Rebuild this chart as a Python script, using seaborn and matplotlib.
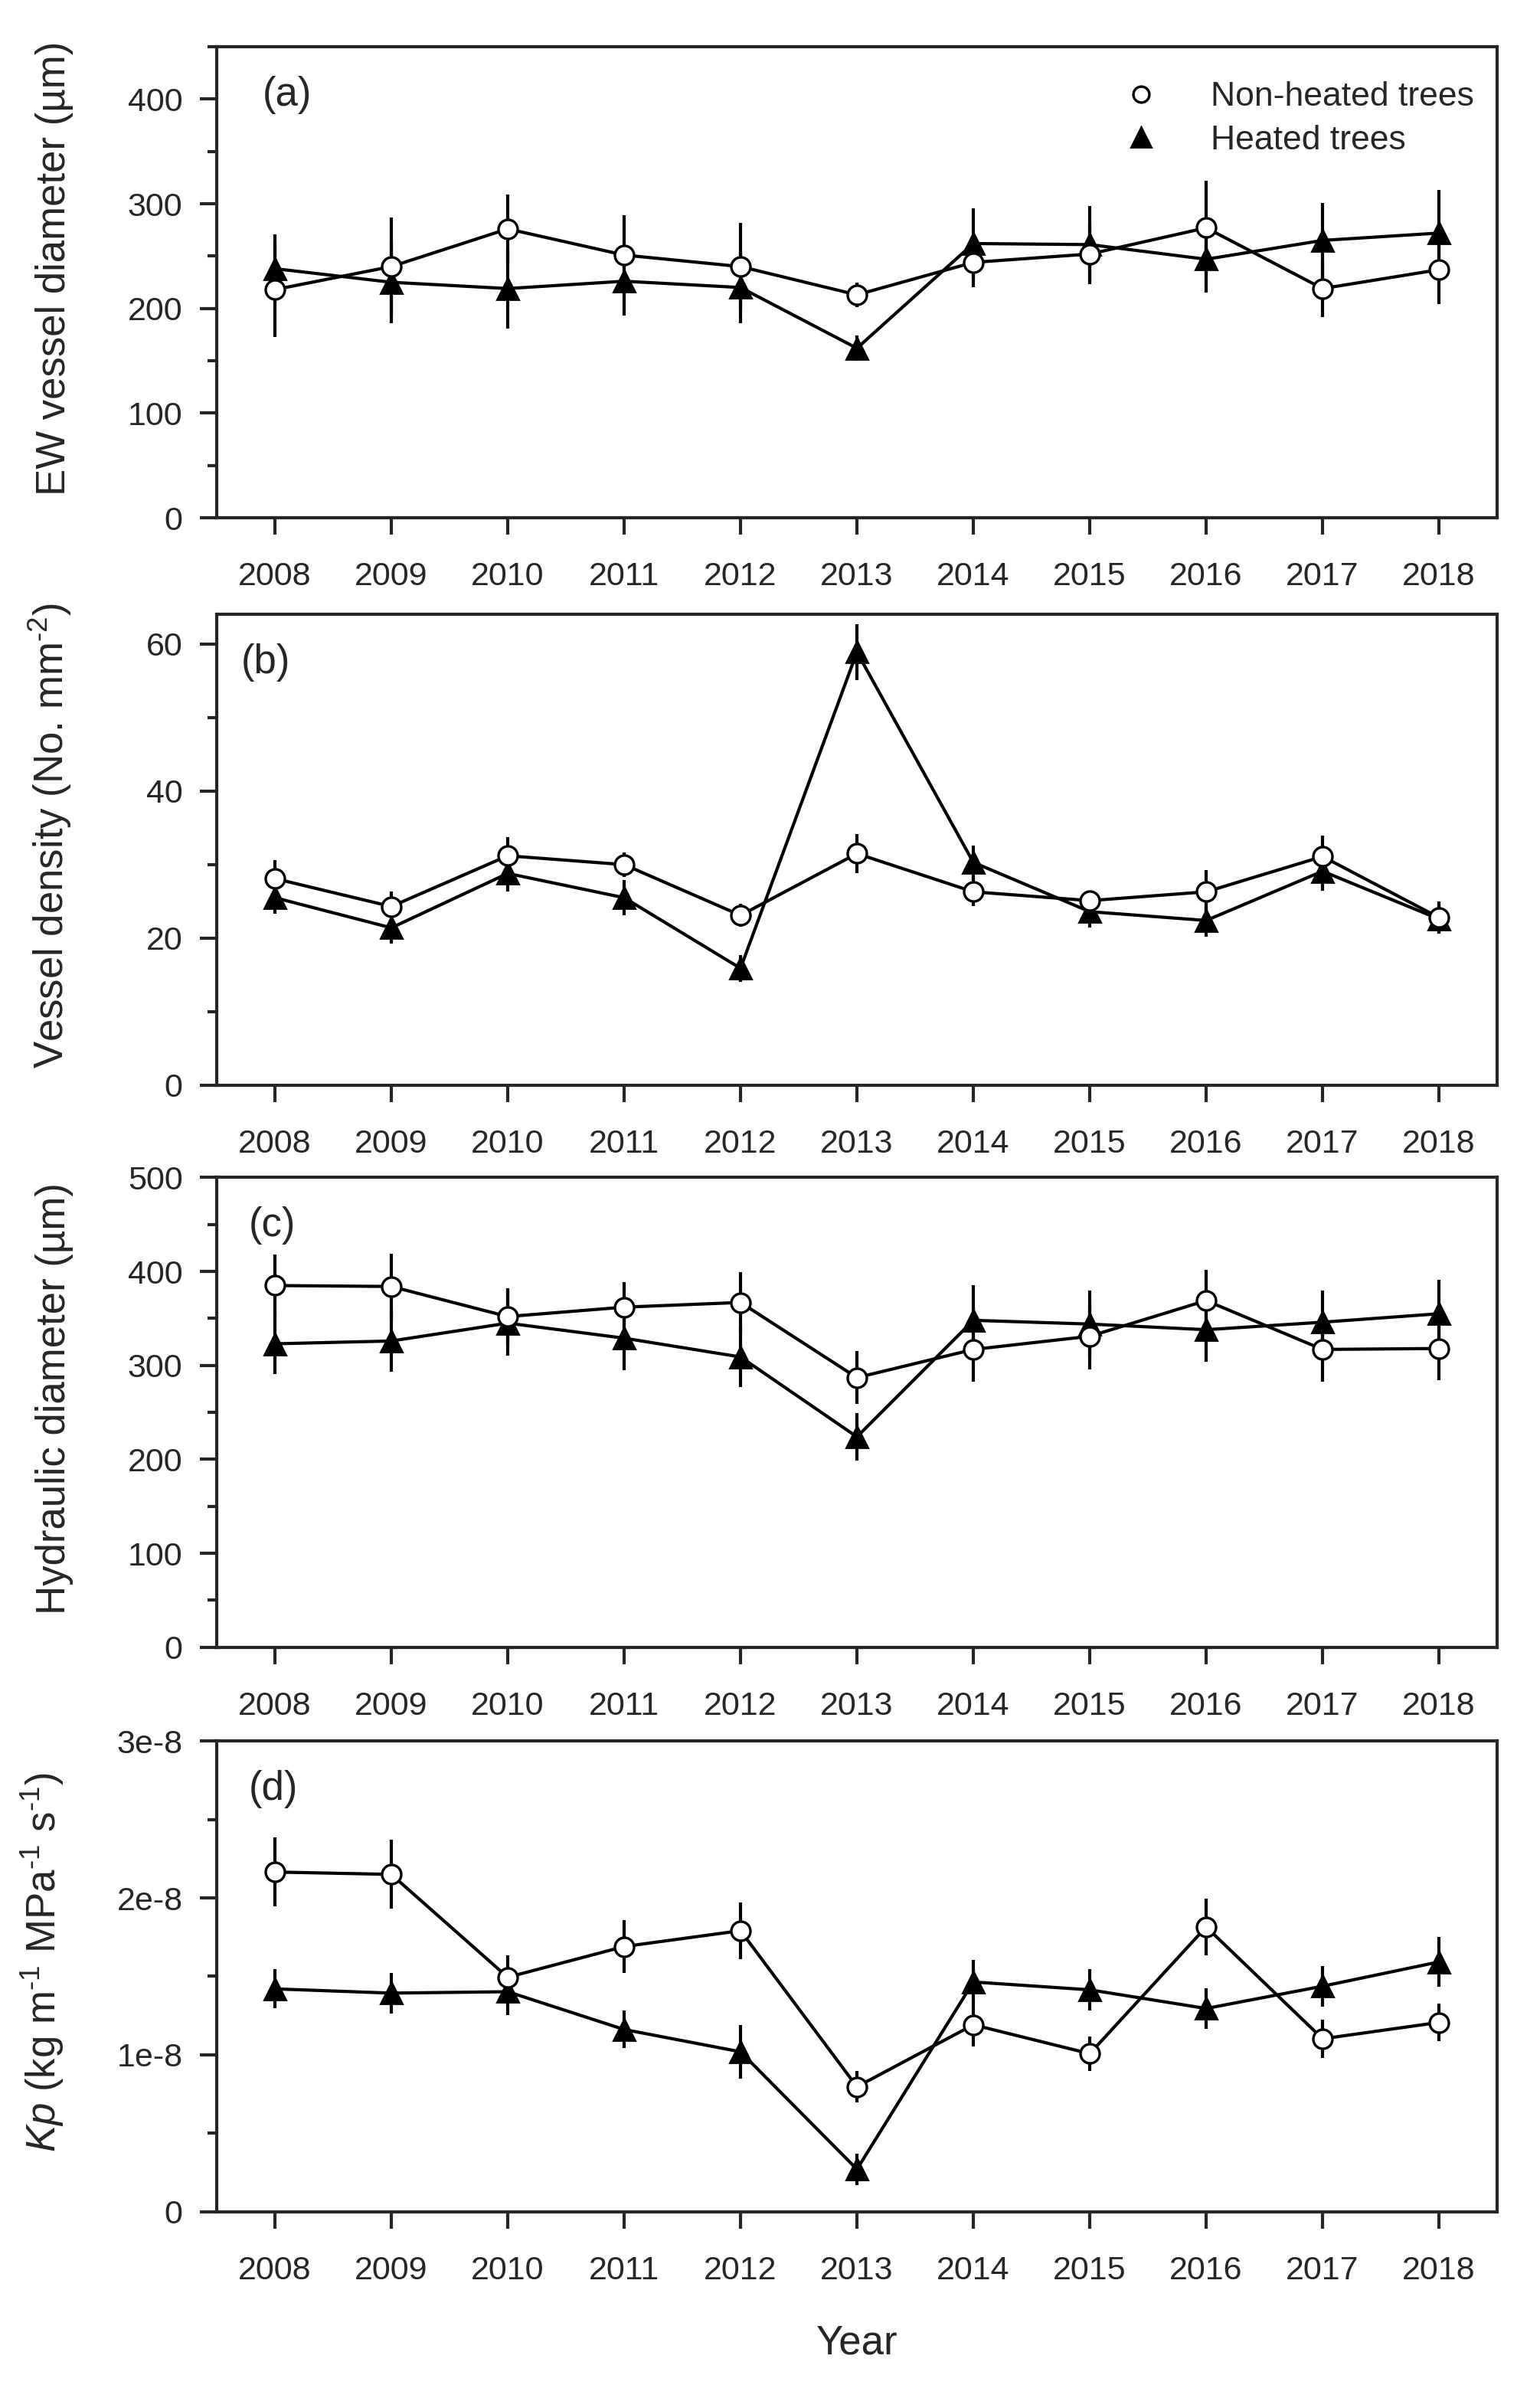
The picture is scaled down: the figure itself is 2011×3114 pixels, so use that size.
import pandas as pd
import matplotlib.pyplot as plt
import seaborn as sns
from matplotlib.lines import Line2D
from matplotlib.ticker import MultipleLocator, FuncFormatter

# Years on the x axis
years = list(range(2008, 2019))

# (a) EW vessel diameter (um)
ew_non = [218, 240, 276, 251, 240, 213, 244, 252, 277, 219, 237]
ew_non_se = [45, 47, 33, 38, 42, 12, 24, 29, 45, 27, 33]
ew_heat = [238, 225, 219, 226, 220, 162, 262, 261, 247, 265, 272]
ew_heat_se = [33, 39, 38, 33, 34, 12, 34, 37, 32, 36, 41]

# (b) Vessel density (No. mm-2)
vd_non = [28.1, 24.3, 31.2, 30.0, 23.1, 31.5, 26.3, 25.1, 26.3, 31.1, 22.8]
vd_non_se = [2.5, 2.0, 2.5, 1.7, 1.6, 2.7, 1.9, 1.3, 3.0, 2.8, 2.2]
vd_heat = [25.5, 21.4, 28.8, 25.5, 15.9, 58.9, 30.3, 23.6, 22.4, 29.1, 22.6]
vd_heat_se = [2.2, 2.1, 2.5, 2.4, 1.8, 3.8, 2.3, 2.2, 2.2, 2.7, 2.0]

# (c) Hydraulic diameter (um)
hd_non = [385, 384, 352, 362, 367, 287, 317, 331, 369, 317, 318]
hd_non_se = [33, 35, 30, 27, 32, 28, 34, 35, 33, 34, 34]
hd_heat = [323, 326, 345, 329, 309, 224, 348, 344, 338, 346, 355]
hd_heat_se = [32, 33, 35, 34, 32, 25, 37, 36, 34, 34, 36]

# (d) Kp (kg m-1 MPa-1 s-1)
kp_non = [2.165e-8, 2.150e-8, 1.494e-8, 1.690e-8, 1.791e-8, 0.796e-8,
          1.191e-8, 1.007e-8, 1.815e-8, 1.102e-8, 1.206e-8]
kp_non_se = [0.22e-8, 0.22e-8, 0.14e-8, 0.17e-8, 0.18e-8, 0.10e-8,
             0.14e-8, 0.11e-8, 0.18e-8, 0.12e-8, 0.12e-8]
kp_heat = [1.420e-8, 1.393e-8, 1.402e-8, 1.161e-8, 1.019e-8, 0.270e-8,
           1.464e-8, 1.414e-8, 1.295e-8, 1.437e-8, 1.592e-8]
kp_heat_se = [0.125e-8, 0.13e-8, 0.15e-8, 0.12e-8, 0.17e-8, 0.10e-8,
              0.14e-8, 0.13e-8, 0.13e-8, 0.13e-8, 0.16e-8]

sns.set_style('ticks')
plt.rcParams['font.family'] = ['Liberation Sans', 'DejaVu Sans']
plt.rcParams['mathtext.fontset'] = 'custom'
plt.rcParams['mathtext.rm'] = 'Liberation Sans'
plt.rcParams['mathtext.it'] = 'Liberation Sans:italic'

panels = [
    ('(a)', 'EW vessel diameter (µm)', ew_non, ew_non_se, ew_heat, ew_heat_se,
     (0, 450), 100, 50, 0.036),
    ('(b)', r'Vessel density (No. mm$^{\text{-2}}$)', vd_non, vd_non_se, vd_heat, vd_heat_se,
     (0, 64), 20, 10, 0.019),
    ('(c)', 'Hydraulic diameter (µm)', hd_non, hd_non_se, hd_heat, hd_heat_se,
     (0, 500), 100, 50, 0.025),
    ('(d)', r'$Kp$ (kg m$^{\text{-1}}$ MPa$^{\text{-1}}$ s$^{\text{-1}}$)',
     kp_non, kp_non_se, kp_heat, kp_heat_se,
     (0, 3e-8), 1e-8, 0.5e-8, 0.025),
]

fig = plt.figure(figsize=(10.055, 15.57), dpi=200)
axes_pos = [(0.9804, 0.7829), (0.7423, 0.5450), (0.5063, 0.3093), (0.2700, 0.0727)]

lw = 1.5
for i, (tag, ylab, non, non_se, heat, heat_se, ylim, major, minor, tagx) in enumerate(panels):
    top, bottom = axes_pos[i]
    ax = fig.add_axes([0.1407, bottom, 0.9722 - 0.1407, top - bottom])

    df = pd.DataFrame({
        'Year': years * 2,
        'value': non + heat,
        'se': non_se + heat_se,
        'group': ['Non-heated trees'] * len(years) + ['Heated trees'] * len(years),
    })
    d_non = df[df['group'] == 'Non-heated trees']
    d_heat = df[df['group'] == 'Heated trees']

    ax.errorbar(d_non['Year'], d_non['value'], yerr=d_non['se'], fmt='none',
                ecolor='black', elinewidth=lw, capsize=0, zorder=1)
    ax.errorbar(d_heat['Year'], d_heat['value'], yerr=d_heat['se'], fmt='none',
                ecolor='black', elinewidth=lw, capsize=0, zorder=1)
    sns.lineplot(data=d_non, x='Year', y='value', ax=ax, color='black', linewidth=lw,
                 marker='o', markersize=9, markerfacecolor='white',
                 markeredgecolor='black', markeredgewidth=1.2, zorder=3)
    sns.lineplot(data=d_heat, x='Year', y='value', ax=ax, color='black', linewidth=lw,
                 marker='^', markersize=10, markerfacecolor='black',
                 markeredgecolor='black', markeredgewidth=1.0, zorder=2)

    ax.set_xlim(2007.5, 2018.5)
    ax.set_ylim(*ylim)
    ax.set_xticks(years)
    ax.yaxis.set_major_locator(MultipleLocator(major))
    ax.yaxis.set_minor_locator(MultipleLocator(minor))
    if tag == '(d)':
        ax.yaxis.set_major_formatter(FuncFormatter(
            lambda v, p: '0' if abs(v) < 1e-12 else '%de-8' % round(v / 1e-8)))

    ax.tick_params(axis='both', which='major', length=8, width=lw, labelsize=15.5,
                   direction='out')
    ax.tick_params(axis='x', pad=12.5)
    ax.tick_params(axis='y', pad=8)
    ax.tick_params(axis='y', which='minor', length=4.3, width=lw, direction='out')
    ax.tick_params(axis='x', which='minor', bottom=False)
    for s in ax.spines.values():
        s.set_linewidth(lw)
        s.set_visible(True)

    ax.set_xlabel('Year' if tag == '(d)' else '', fontsize=19, labelpad=18)
    ax.set_ylabel(ylab, fontsize=19)
    ax.yaxis.set_label_coords(-0.112 if tag != '(d)' else -0.118, 0.53)
    ax.text(tagx, 0.898, tag, transform=ax.transAxes, fontsize=19,
            ha='left', va='center')

    if tag == '(a)':
        handles = [
            Line2D([], [], linestyle='none', marker='o', markersize=7.5,
                   markerfacecolor='white', markeredgecolor='black', markeredgewidth=1.2),
            Line2D([], [], linestyle='none', marker='^', markersize=9.5,
                   markerfacecolor='black', markeredgecolor='black'),
        ]
        ax.legend(handles, ['Non-heated trees', 'Heated trees'], frameon=False,
                  fontsize=16, loc='upper left', bbox_to_anchor=(0.695, 0.955),
                  handlelength=1.2, handletextpad=1.45, labelspacing=0.35,
                  borderaxespad=0)

fig.savefig('out.png', dpi=200)
